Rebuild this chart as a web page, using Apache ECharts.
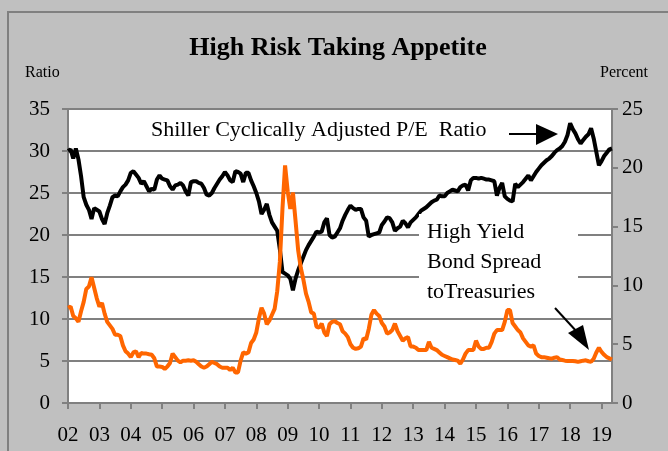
<!DOCTYPE html>
<html>
<head>
<meta charset="utf-8">
<script src="https://cdn.jsdelivr.net/npm/echarts@6/dist/echarts.min.js"></script>
<style>
  html, body { margin: 0; padding: 0; background: #c0c0c0; }
  #chart { width: 668px; height: 451px; }
</style>
</head>
<body>
<div id="chart"></div>
<script>
// x axis tick labels, one per January
var years = ['02', '03', '04', '05', '06', '07', '08', '09', '10',
             '11', '12', '13', '14', '15', '16', '17', '18', '19'];
var monthsInLastYear = 5; // data runs to May 2019

// Shiller cyclically adjusted P/E (left axis), monthly
var peRatio = [
  30.0, 30.2, 29.1, 30.3, 29.0, 27.0, 24.5, 23.6, 23.0, 21.9, 23.2, 23.0,
  22.8, 21.9, 21.3, 22.6, 23.5, 24.5, 24.7, 24.6, 25.2, 25.7, 26.0, 26.5,
  27.4, 27.6, 27.2, 26.8, 26.1, 26.4, 25.8, 25.2, 25.5, 25.4, 26.6, 27.1,
  26.7, 26.6, 26.5, 25.8, 25.4, 25.9, 26.0, 26.2, 25.9, 25.2, 24.7, 26.3,
  26.4, 26.4, 26.2, 26.1, 25.6, 24.8, 24.7, 25.0, 25.6, 26.1, 26.6, 27.0,
  27.5, 27.1, 26.5, 26.3, 27.6, 27.5, 27.3, 26.3, 27.4, 27.4, 26.5, 25.8,
  25.0, 24.0, 22.5, 23.0, 23.7, 22.4, 21.5, 21.0, 20.5, 18.3, 15.6, 15.4,
  15.2, 14.8, 13.4, 14.8, 15.8, 16.6, 17.4, 18.2, 18.8, 19.3, 19.8, 20.4,
  20.3, 20.4, 21.5, 22.0, 20.0, 19.7, 19.8, 20.3, 20.8, 21.7, 22.4, 23.0,
  23.5, 23.2, 23.0, 23.1, 23.1, 22.1, 21.7, 19.8, 20.0, 20.1, 20.2, 20.3,
  21.2, 21.6, 22.1, 22.0, 21.5, 20.5, 20.8, 21.0, 21.7, 21.4, 20.9, 21.5,
  21.8, 22.1, 22.5, 22.9, 23.1, 23.3, 23.6, 23.9, 24.1, 24.2, 24.7, 24.6,
  24.6, 25.0, 25.2, 25.4, 25.3, 25.2, 25.7, 25.9, 26.0, 25.3, 26.5, 26.8,
  26.8, 26.7, 26.8, 26.7, 26.6, 26.6, 26.5, 26.4, 24.7, 25.6, 26.2, 24.6,
  24.3, 24.1, 24.0, 26.1, 25.7, 26.0, 26.3, 26.7, 27.1, 26.5, 27.0, 27.5,
  27.9, 28.3, 28.6, 28.9, 29.1, 29.4, 29.8, 30.1, 30.3, 30.6, 31.1, 31.9,
  33.3, 32.6, 32.1, 31.4, 30.9, 31.3, 31.7, 32.0, 32.7, 31.5, 29.9, 28.3,
  28.8, 29.4, 29.8, 30.2, 30.3
];

// high yield bond spread to Treasuries, percent (right axis), monthly
var hySpread = [
  8.1, 8.2, 7.4, 7.2, 6.9, 7.8, 8.6, 9.7, 9.9, 10.7, 9.8, 8.9,
  8.2, 8.5, 7.6, 6.9, 6.6, 6.3, 5.8, 5.8, 5.7, 4.9, 4.4, 4.2,
  3.9, 4.3, 4.4, 3.9, 4.25, 4.2, 4.2, 4.15, 4.1, 3.8, 3.1, 3.1,
  3.07, 2.9, 3.1, 3.4, 4.2, 3.9, 3.6, 3.45, 3.6, 3.6, 3.63, 3.6,
  3.63, 3.5, 3.3, 3.1, 3.0, 3.1, 3.3, 3.5, 3.4, 3.3, 3.1, 3.0,
  3.0, 3.0, 2.8, 3.0, 2.6, 2.6, 3.6, 4.3, 4.2, 4.3, 5.1, 5.4,
  6.0, 7.2, 8.1, 7.6, 6.7, 7.0, 7.5, 8.0, 9.5, 12.0, 16.5, 20.2,
  18.0, 16.5, 17.9, 15.5, 13.0, 11.5, 10.5, 9.3, 8.6, 7.7, 7.6, 6.5,
  6.4, 6.75, 6.0, 5.7, 6.7, 6.9, 6.95, 6.8, 6.7, 6.1, 5.9, 5.6,
  5.0, 4.7, 4.6, 4.65, 4.8, 5.5, 5.4, 6.3, 7.5, 7.9, 7.6, 7.4,
  6.8, 6.5, 5.9, 6.0, 6.2, 6.75, 6.1, 5.7, 5.3, 5.5, 5.6, 4.8,
  4.8, 4.7, 4.5, 4.5, 4.5, 4.5, 5.2, 4.7, 4.6, 4.5, 4.3, 4.1,
  4.0, 3.9, 3.8, 3.7, 3.65, 3.6, 3.35, 3.7, 4.2, 4.5, 4.5, 4.5,
  5.3, 4.8, 4.6, 4.6, 4.7, 4.7, 5.2, 5.9, 6.2, 6.2, 6.2, 6.9,
  7.9, 7.9, 6.8, 6.5, 6.2, 6.0, 5.5, 5.2, 4.9, 4.8, 4.9, 4.2,
  4.0, 3.9, 3.9, 3.85, 3.8, 3.77, 3.85, 3.9, 3.7, 3.65, 3.6, 3.58,
  3.58, 3.58, 3.55, 3.5, 3.55, 3.6, 3.63, 3.55, 3.5, 3.77, 4.3, 4.7,
  4.34, 4.1, 3.9, 3.8, 3.7
];

var months = [];
years.forEach(function (y, i) {
  var n = i === years.length - 1 ? monthsInLastYear : 12;
  for (var m = 1; m <= n; m++) months.push(y + '-' + (m < 10 ? '0' : '') + m);
});

var serif = 'Liberation Serif';
var grayLine = '#808080';
var isJan = function (i) { return i % 12 === 0; };

var chart = echarts.init(document.getElementById('chart'));
chart.setOption({
  animation: false,
  backgroundColor: '#c0c0c0',
  grid: {
    left: 68, right: 56, top: 109, bottom: 48,
    show: true, backgroundColor: '#ffffff', borderWidth: 0
  },
  xAxis: {
    type: 'category',
    data: months,
    boundaryGap: false,
    axisLine: { lineStyle: { color: grayLine, width: 2 } },
    axisTick: { interval: isJan, length: 6, lineStyle: { color: grayLine, width: 2 } },
    axisLabel: {
      interval: isJan, margin: 22, color: '#000',
      fontFamily: serif, fontSize: 21,
      formatter: function (v) { return v.slice(0, 2); }
    },
    splitLine: { show: false }
  },
  yAxis: [
    {
      type: 'value', min: 0, max: 35, interval: 5,
      axisLine: { show: true, lineStyle: { color: grayLine, width: 2 } },
      axisTick: { show: true, length: 6, lineStyle: { color: grayLine, width: 2 } },
      axisLabel: { color: '#000', fontFamily: serif, fontSize: 21, margin: 18 },
      splitLine: { lineStyle: { color: grayLine, width: 2 } }
    },
    {
      type: 'value', min: 0, max: 25, interval: 5, position: 'right',
      axisLine: { show: true, lineStyle: { color: grayLine, width: 2 } },
      axisTick: { show: true, length: 6, lineStyle: { color: grayLine, width: 2 } },
      axisLabel: { color: '#000', fontFamily: serif, fontSize: 21, margin: 10 },
      splitLine: { show: false }
    }
  ],
  series: [
    {
      name: 'Shiller Cyclically Adjusted P/E Ratio',
      type: 'line', yAxisIndex: 0, data: peRatio,
      symbol: 'none', lineStyle: { color: '#000', width: 4 }, z: 3
    },
    {
      name: 'High Yield Bond Spread to Treasuries',
      type: 'line', yAxisIndex: 1, data: hySpread,
      symbol: 'none', lineStyle: { color: '#ff6600', width: 4 }, z: 4
    }
  ],
  graphic: [
    { type: 'rect', shape: { x: 8, y: 12, width: 700, height: 480 },
      style: { fill: 'none', stroke: grayLine, lineWidth: 2 }, z: 0 },
    { type: 'text', x: 338, y: 48,
      style: { text: 'High Risk Taking Appetite', font: 'bold 26px "Liberation Serif"',
               fill: '#000', textAlign: 'center', textVerticalAlign: 'middle' } },
    { type: 'text', x: 25, y: 73,
      style: { text: 'Ratio', font: '16px "Liberation Serif"', fill: '#000',
               textVerticalAlign: 'middle' } },
    { type: 'text', x: 648, y: 73,
      style: { text: 'Percent', font: '16px "Liberation Serif"', fill: '#000',
               textAlign: 'right', textVerticalAlign: 'middle' } },
    { type: 'text', x: 151, y: 130, z: 10,
      style: { text: 'Shiller Cyclically Adjusted P/E  Ratio', font: '22px "Liberation Serif"',
               fill: '#000', textVerticalAlign: 'middle' } },
    { type: 'line', z: 10, shape: { x1: 509, y1: 134, x2: 540, y2: 134 },
      style: { stroke: '#000', lineWidth: 2 } },
    { type: 'polygon', z: 10, shape: { points: [[536, 124], [558, 134], [536, 145]] },
      style: { fill: '#000' } },
    { type: 'rect', z: 5, shape: { x: 419, y: 214, width: 159, height: 92 },
      style: { fill: '#ffffff' } },
    { type: 'text', x: 427, y: 232, z: 10,
      style: { text: 'High Yield', font: '22px "Liberation Serif"', fill: '#000',
               textVerticalAlign: 'middle' } },
    { type: 'text', x: 427, y: 262, z: 10,
      style: { text: 'Bond Spread', font: '22px "Liberation Serif"', fill: '#000',
               textVerticalAlign: 'middle' } },
    { type: 'text', x: 427, y: 292, z: 10,
      style: { text: 'toTreasuries', font: '22px "Liberation Serif"', fill: '#000',
               textVerticalAlign: 'middle' } },
    { type: 'line', z: 10, shape: { x1: 555, y1: 308, x2: 578, y2: 333 },
      style: { stroke: '#000', lineWidth: 2 } },
    { type: 'polygon', z: 10, shape: { points: [[568, 333], [589, 350], [583, 325]] },
      style: { fill: '#000' } }
  ]
});
</script>
</body>
</html>
